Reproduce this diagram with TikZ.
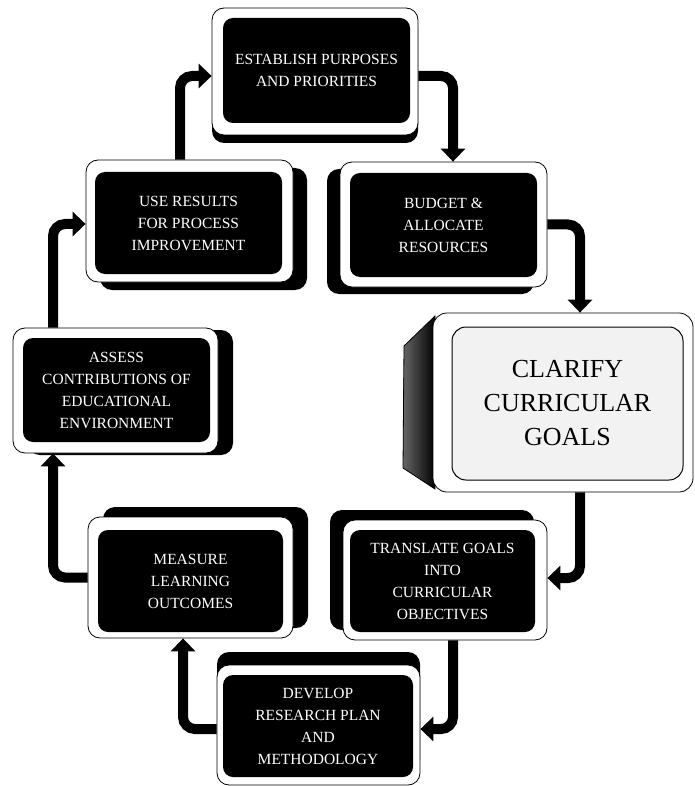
\documentclass[tikz,border=0pt]{standalone}
\usepackage{fontspec}
\setmainfont{Liberation Serif}
\usetikzlibrary{arrows.meta,shadows}
\begin{document}
\begin{tikzpicture}[x=1pt,y=-1pt,
  outerbox/.style={draw=black, line width=0.8pt, fill=white, rounded corners=12pt, inner sep=0pt},
  innerbox/.style={fill=black, rounded corners=10pt, text=white, align=center, inner sep=0pt,
    font=\fontsize{15.5}{22}\selectfont},
  shd/.style 2 args={drop shadow={shadow xshift=#1, shadow yshift=#2, fill=black, opacity=1}},
  arr/.style={line width=10pt, rounded corners=12pt, -{Triangle[width=24pt,length=13pt]}}]
\useasboundingbox (0,0) rectangle (694,786);
\fill[white] (0,0) rectangle (694,786);

% box 1
\node[outerbox, shd={0pt}{-8pt}, minimum width=206pt, minimum height=127pt] (b1) at (315,71.5) {};
\node[innerbox, minimum width=187pt, minimum height=105pt] (t1) at (316.5,70.5) {ESTABLISH PURPOSES\\AND PRIORITIES};
% box 2
\node[outerbox, shd={14pt}{-8pt}, minimum width=207pt, minimum height=122pt] (b2) at (189.5,221) {};
\node[innerbox, minimum width=187pt, minimum height=102pt] (t2) at (188.5,223) {USE RESULTS\\FOR PROCESS\\IMPROVEMENT};
% box 3
\node[outerbox, shd={-13pt}{-7pt}, minimum width=207pt, minimum height=125pt] (b3) at (443.5,224.5) {};
\node[innerbox, minimum width=187pt, minimum height=104pt] (t3) at (443.5,225) {BUDGET \&\\ALLOCATE\\RESOURCES};
% box 4
\node[outerbox, shd={15pt}{-2pt}, minimum width=205pt, minimum height=125pt] (b4) at (115.5,390.5) {};
\node[innerbox, minimum width=187pt, minimum height=104pt] (t4) at (116.5,390) {ASSESS\\CONTRIBUTIONS OF\\EDUCATIONAL\\ENVIRONMENT};
% box 5 (highlighted)
\shade[left color=black!60, right color=black, draw=black, line width=0.8pt]
  (435,316) -- (404,346) -- (403,468) -- (435,489) -- cycle;
\node[outerbox, minimum width=260pt, minimum height=179pt, rounded corners=14pt] (b5) at (563,402.5) {};
\node[draw=black, line width=1pt, fill=black!5, rounded corners=14pt, inner sep=0pt,
  minimum width=231pt, minimum height=153pt, align=center,
  font=\fontsize{26}{34}\selectfont] (t5) at (567.5,403.5) {CLARIFY\\CURRICULAR\\GOALS};
% box 6
\node[outerbox, shd={15pt}{10pt}, minimum width=205pt, minimum height=121pt] (b6) at (190.5,577.5) {};
\node[innerbox, minimum width=185pt, minimum height=102pt] (t6) at (190.5,581) {MEASURE\\LEARNING\\OUTCOMES};
% box 7
\node[outerbox, shd={-13pt}{10pt}, minimum width=204pt, minimum height=120pt] (b7) at (445,580) {};
\node[innerbox, minimum width=185pt, minimum height=102pt] (t7) at (442.5,581) {TRANSLATE GOALS\\INTO\\CURRICULAR\\OBJECTIVES};
% box 8
\node[outerbox, shd={0pt}{13pt}, minimum width=203pt, minimum height=120pt] (b8) at (318.5,725) {};
\node[innerbox, minimum width=190pt, minimum height=102pt] (t8) at (318,726) {DEVELOP\\RESEARCH PLAN\\AND\\METHODOLOGY};

% connectors
\draw[arr] ([yshift=-4.5pt]b1.east) -| ([xshift=9.5pt]b3.north);
\draw[arr] (b3.east) -| ([xshift=17pt]b5.north);
\draw[arr] ([xshift=17pt]b5.south) |- ([yshift=2pt]b7.east);
\draw[arr] ([xshift=8pt]b7.south) |- ([yshift=-4pt]b8.east);
\draw[arr] ([yshift=-4pt]b8.west) -| ([xshift=-7.5pt]b6.south);
\draw[arr] (b6.west) -| ([xshift=-62.5pt]b4.south);
\draw[arr] ([xshift=-62.5pt]b4.north) |- ([yshift=-3pt]b2.west);
\draw[arr] ([xshift=-9.5pt]b2.north) |- ([yshift=-4.5pt]b1.west);
\end{tikzpicture}
\end{document}
